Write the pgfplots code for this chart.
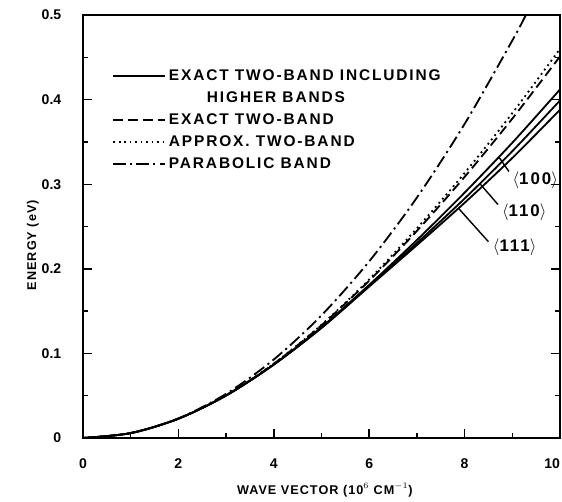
\documentclass[border=0pt]{standalone}
\usepackage{fontspec}
\setmainfont{Liberation Sans}
\newfontfamily\lblfont[LetterSpace=8]{Liberation Sans}
\newfontfamily\legfont[LetterSpace=12]{Liberation Sans}
\usepackage{pgfplots}
\pgfplotsset{compat=1.18}

\begin{document}
\begin{tikzpicture}
\begin{axis}[
  at={(0,0)}, anchor=south west,
  scale only axis, width=11.925cm, height=10.575cm,
  xmin=0, xmax=10, ymin=0, ymax=0.5,
  xtick={0,2,4,6,8,10}, xticklabels={0,2,4,6,8,\llap{10}},
  minor xtick={1,3,5,7,9},
  ytick={0,0.1,0.2,0.3,0.4,0.5}, yticklabels={0,0.1,0.2,0.3,0.4,0.5},
  minor ytick={0.05,0.15,0.25,0.35,0.45},
  tick align=inside, xtick pos=bottom, ytick pos=both,
  major tick length=0.22cm, minor tick length=0.13cm,
  tick style={line width=1pt, black},
  axis line style={line width=1.4pt},
  ticklabel style={font=\bfseries\normalsize},
  xticklabel style={yshift=-0.4cm},
  yticklabel style={xshift=-0.42cm},
  xlabel={\lblfont\bfseries\small WAVE VECTOR (10$^{6}$ CM$^{-1}$)},
  xlabel style={at={(axis description cs:0.507,-0.123)}, anchor=center},
  ylabel={\lblfont\bfseries\small ENERGY (eV)},
  ylabel style={at={(axis description cs:-0.105,0.456)}, anchor=center},
  legend style={at={(axis description cs:0.052,0.885)}, anchor=north west,
    draw=none, fill=none, font=\legfont\bfseries\fontsize{11}{13}\selectfont, row sep=2.5pt},
  legend cell align=left,
  legend image code/.code={\draw[#1] (0cm,0cm) -- (1.3cm,0cm);},
]
% <100>
\addplot[black, line width=1.3pt, smooth] coordinates {
 (0,0) (1,0.0058) (2,0.0228) (3,0.0502) (4,0.0868) (5,0.131) (6,0.181) (7,0.234) (8,0.290) (9,0.349) (10,0.412)};
\addlegendentry{EXACT TWO-BAND INCLUDING}
\addlegendimage{empty legend}
\addlegendentry{\hspace*{0.95cm}HIGHER BANDS}
% exact two-band
\addplot[black, line width=1.3pt, dash pattern=on 7pt off 3.5pt, smooth, forget plot] coordinates {
 (0,0) (1,0.0058) (2,0.0229) (3,0.0505) (4,0.0877) (5,0.1333) (6,0.186) (7,0.2448) (8,0.3086) (9,0.3775) (10,0.451)};
\addlegendimage{black, line width=1.3pt, dash pattern=on 7pt off 3.5pt}
\addlegendentry{EXACT TWO-BAND}
% approx two-band
\addplot[black, line width=1.3pt, dash pattern=on 1.3pt off 2.6pt, smooth, forget plot] coordinates {
 (0,0) (1,0.0058) (2,0.0229) (3,0.0506) (4,0.0879) (5,0.1338) (6,0.1875) (7,0.2478) (8,0.3132) (9,0.384) (10,0.460)};
\addlegendimage{black, line width=1.3pt, dash pattern=on 1.3pt off 2.6pt}
\addlegendentry{APPROX. TWO-BAND}
% parabolic
\addplot[black, line width=1.3pt, dash pattern=on 9pt off 3pt on 1.5pt off 3pt, smooth, forget plot] coordinates {
 (0,0) (1,0.0058) (2,0.0232) (3,0.0522) (4,0.0928) (5,0.145) (6,0.2088) (7,0.2842) (8,0.3712) (9,0.4698) (9.28,0.4995)};
\addlegendimage{black, line width=1.3pt, dash pattern=on 9pt off 3pt on 1.5pt off 3pt}
\addlegendentry{PARABOLIC BAND}
% <110>
\addplot[black, line width=1.3pt, smooth, forget plot] coordinates {
 (0,0) (1,0.0058) (2,0.0228) (3,0.0502) (4,0.0868) (5,0.1305) (6,0.180) (7,0.2305) (8,0.283) (9,0.339) (10,0.399)};
% <111>
\addplot[black, line width=1.3pt, smooth, forget plot] coordinates {
 (0,0) (1,0.0058) (2,0.0228) (3,0.0502) (4,0.0868) (5,0.130) (6,0.179) (7,0.228) (8,0.278) (9,0.331) (10,0.388)};

\draw[line width=1pt] (axis cs:8.93,0.315) -- (axis cs:8.72,0.332);
\node[font=\legfont\bfseries\large] at (axis cs:9.48,0.305) {$\langle$100$\rangle$};
\draw[line width=1pt] (axis cs:8.7,0.276) -- (axis cs:8.33,0.300);
\node[font=\legfont\bfseries\large] at (axis cs:9.25,0.267) {$\langle$110$\rangle$};
\draw[line width=1pt] (axis cs:8.5,0.232) -- (axis cs:7.88,0.271);
\node[font=\legfont\bfseries\large] at (axis cs:9.05,0.225) {$\langle$111$\rangle$};
\end{axis}
\pgfresetboundingbox
\path (-2.075cm,-1.6cm) rectangle (11.975cm,10.95cm);
\end{tikzpicture}
\end{document}
